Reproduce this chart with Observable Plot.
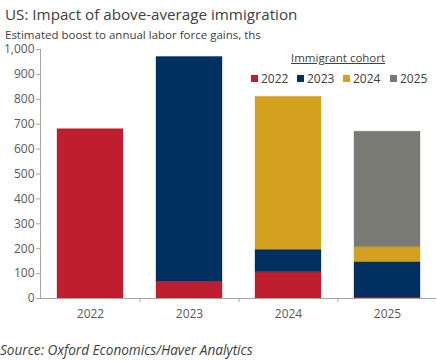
<!DOCTYPE html>
<html>
<head>
<meta charset="utf-8">
<script src="https://cdn.jsdelivr.net/npm/d3@7"></script>
<script src="https://cdn.jsdelivr.net/npm/@observablehq/plot@0.6"></script>
<style>
  body { margin: 0; background: #fff; font-family: "Open Sans", "Noto Sans", sans-serif; }
  #wrap { position: relative; width: 437px; height: 361px; overflow: hidden; }
  #wrap svg { position: absolute; left: 0; top: 0; }
  .title { position: absolute; left: 5px; top: 4px; font-size: 15.2px; color: #404040; white-space: nowrap; }
  .subtitle { position: absolute; left: 5px; top: 28px; font-size: 11.5px; line-height: 14px; color: #404040; white-space: nowrap; }
  .source { position: absolute; left: 0px; top: 340px; font-size: 13.6px; font-style: italic; color: #404040; white-space: nowrap; }
  .legtitle { position: absolute; left: 291px; top: 50px; font-size: 11.5px; color: #404040; text-decoration: underline; white-space: nowrap; }
  .legitem { position: absolute; top: 70px; font-size: 12px; color: #404040; white-space: nowrap; display: flex; align-items: center; }
  .legitem span.sw { display: inline-block; width: 7px; height: 7px; margin-right: 3px; }
</style>
</head>
<body>
<div id="wrap">
  <div class="title">US: Impact of above-average immigration</div>
  <div class="subtitle">Estimated boost to annual labor force gains, ths</div>
  <div class="legtitle">Immigrant cohort</div>
  <div class="source">Source: Oxford Economics/Haver Analytics</div>
</div>
<script>
const years = ["2022", "2023", "2024", "2025"];
const cohorts = ["2022", "2023", "2024", "2025"];
const cohortColors = ["#BE1E2D", "#00305F", "#D4A11E", "#7A7A74"];
const cohort2022 = [680, 67, 106, 4];
const cohort2023 = [0, 903, 90, 143];
const cohort2024 = [0, 0, 614, 59];
const cohort2025 = [0, 0, 0, 464];
const yTicks = [0, 100, 200, 300, 400, 500, 600, 700, 800, 900, 1000];
const legendX = [251, 297, 343, 390];

const series = [cohort2022, cohort2023, cohort2024, cohort2025];
const rows = [];
cohorts.forEach((c, ci) => {
  years.forEach((y, yi) => {
    const v = series[ci][yi];
    if (v > 0) rows.push({year: y, cohort: c, value: v});
  });
});

const axisGray = "#A6A6A6";
const textGray = "#595959";

const chart = Plot.plot({
  width: 437,
  height: 361,
  marginLeft: 40,
  marginRight: 1,
  marginTop: 49,
  marginBottom: 63,
  style: {fontFamily: "'Open Sans', 'Noto Sans', sans-serif", background: "transparent"},
  x: {domain: years, paddingInner: 1/3, paddingOuter: 1/6, label: null},
  y: {domain: [0, 1000], label: null},
  color: {domain: cohorts, range: cohortColors},
  marks: [
    Plot.barY(rows, {x: "year", y: "value", fill: "cohort", stroke: "cohort", strokeOpacity: 0.35, strokeWidth: 1, order: cohorts}),
    Plot.frame({anchor: "left", stroke: axisGray}),
    Plot.ruleY([0], {stroke: axisGray}),
    Plot.ruleX(years.slice(0, -1), {x: d => d, dx: 49.5, y1: 0, y2: 0, insetBottom: -4, stroke: axisGray}),
    Plot.axisY({ticks: yTicks, tickFormat: d3.format(","), tickSize: 4, tickPadding: 2, fontSize: 12, color: textGray, stroke: axisGray, label: null}),
    Plot.axisX({tickSize: 0, tickPadding: 11, fontSize: 12, color: textGray, label: null})
  ]
});
document.getElementById("wrap").prepend(chart);

const wrap = document.getElementById("wrap");
cohorts.forEach((c, i) => {
  const d = document.createElement("div");
  d.className = "legitem";
  d.style.left = legendX[i] + "px";
  d.innerHTML = `<span class="sw" style="background:${cohortColors[i]}"></span>${c}`;
  wrap.appendChild(d);
});
</script>
</body>
</html>
